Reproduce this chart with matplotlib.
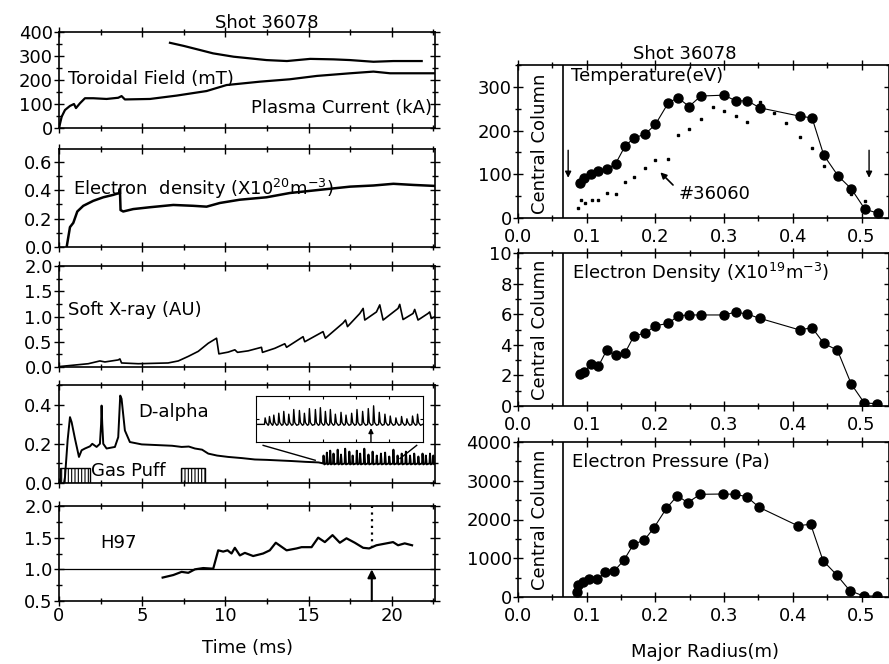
""" Shot 36078 summary: time traces (left) and radial profiles (right). """

import matplotlib
matplotlib.use('Agg')
import matplotlib.pyplot as plt
from matplotlib.patches import Rectangle
from matplotlib.ticker import MultipleLocator, FormatStrFormatter

plt.rcParams['font.family'] = ['DejaVu Sans']
plt.rcParams['mathtext.fontset'] = 'dejavusans'
plt.rcParams['hatch.linewidth'] = 0.8

# ---- left column: time traces (ms) ----
bt_t = [6.67, 7.5, 8.47, 9.26, 10.5, 11.5, 12.47, 13.7, 15.1, 16.5, 17.5, 18.9, 20.1, 21.8]
bt_v = [355, 342, 325, 311, 297, 290, 283, 279, 288, 286, 283, 276, 279, 279]

ip_t = [0.0, 0.16, 0.36, 0.66, 0.9, 1.02, 1.26, 1.56, 2.06, 2.86, 3.56, 3.76, 3.96, 5.47,
        7.07, 8.87, 10.07, 12.07, 13.87, 15.5, 17.5, 18.9, 19.9, 22.6]
ip_v = [0, 47, 75, 92, 100, 83, 103, 124, 124, 121, 126, 133, 119, 121,
        135, 154, 179, 193, 203, 217, 228, 235, 228, 228]

ne_t = [0.46, 0.56, 0.66, 0.86, 1.1, 1.46, 2.06, 2.66, 3.26, 3.62, 3.66, 3.7, 3.86, 4.46,
        5.47, 6.87, 8.07, 8.87, 9.67, 10.87, 12.47, 13.87, 15.47, 17.5, 18.9, 20.1, 21.3, 22.6]
ne_v = [0.0, 0.07, 0.14, 0.17, 0.25, 0.29, 0.325, 0.35, 0.367, 0.38, 0.41, 0.26, 0.25, 0.267,
        0.28, 0.296, 0.29, 0.284, 0.31, 0.333, 0.35, 0.38, 0.40, 0.425, 0.433, 0.445, 0.437, 0.43]

sx_t = [0.06, 1.76, 2.46, 2.76, 3.56, 3.66, 3.76, 4.76, 6.56, 7.17, 7.77, 8.37, 8.97, 9.47,
        9.61, 10.17, 10.57, 10.73, 11.37, 12.17, 12.23, 12.97, 13.57, 13.68, 14.67, 14.77,
        15.87, 16.01, 17.07, 17.22, 17.34, 18.08, 18.28, 18.38, 19.08, 19.28, 19.48, 20.38,
        20.48, 20.68, 21.28, 21.38, 21.58, 22.18, 22.28, 22.38, 22.6]
sx_v = [0.01, 0.065, 0.12, 0.10, 0.14, 0.16, 0.08, 0.065, 0.08, 0.12, 0.21, 0.31, 0.47, 0.57,
        0.26, 0.295, 0.34, 0.29, 0.32, 0.39, 0.29, 0.37, 0.46, 0.39, 0.60, 0.50,
        0.70, 0.57, 0.87, 0.93, 0.80, 1.06, 1.16, 0.93, 1.09, 1.23, 0.93, 1.16,
        1.24, 0.94, 1.06, 1.14, 0.93, 1.06, 1.09, 0.96, 1.0]

da_t = [0.3, 0.36, 0.52, 0.66, 0.76, 0.96, 1.2, 1.36, 1.56, 1.86, 2.0, 2.26, 2.46, 2.53, 2.56,
        2.6, 2.66, 2.86, 3.36, 3.56, 3.68, 3.76, 3.96, 4.26, 4.97, 5.5, 6.17, 6.8, 7.37, 7.8,
        8.17, 8.6, 8.97, 9.5, 10.17, 11.0, 11.77, 12.5, 13.3, 14.0, 14.8, 15.6]
da_v = [0.0, 0.03, 0.22, 0.336, 0.31, 0.226, 0.133, 0.167, 0.176, 0.187, 0.2, 0.184, 0.2, 0.3,
        0.395, 0.3, 0.2, 0.176, 0.184, 0.234, 0.446, 0.43, 0.268, 0.209, 0.197, 0.195, 0.192,
        0.19, 0.184, 0.186, 0.176, 0.17, 0.15, 0.14, 0.133, 0.127, 0.12, 0.118, 0.115, 0.112,
        0.108, 0.105]
elm_t = [15.9, 16.1, 16.3, 16.5, 16.75, 16.95, 17.2, 17.45, 17.65, 17.9, 18.1, 18.35, 18.6,
         18.85, 19.1, 19.35, 19.6, 19.85, 20.1, 20.35, 20.6, 20.85, 21.1, 21.35, 21.6, 21.85,
         22.05, 22.3, 22.5]
elm_peak = [0.14, 0.155, 0.165, 0.15, 0.17, 0.145, 0.175, 0.16, 0.14, 0.165, 0.15, 0.175, 0.145,
            0.16, 0.14, 0.15, 0.155, 0.135, 0.17, 0.14, 0.15, 0.16, 0.14, 0.15, 0.135, 0.15,
            0.14, 0.15, 0.14]
elm_base = 0.10

# inset (zoomed ELMs), normalised coordinates
ins_x = [0.054, 0.08, 0.106, 0.136, 0.166, 0.196, 0.226, 0.26, 0.29, 0.32, 0.356, 0.386,
         0.416, 0.446, 0.476, 0.51, 0.54, 0.574, 0.606, 0.64, 0.674, 0.706, 0.74, 0.774,
         0.806, 0.84, 0.874, 0.906, 0.94, 0.97]
ins_peak = [0.52, 0.55, 0.58, 0.62, 0.66, 0.6, 0.7, 0.68, 0.62, 0.72, 0.7, 0.74, 0.66, 0.7,
            0.6, 0.64, 0.58, 0.62, 0.7, 0.66, 0.72, 0.78, 0.64, 0.6, 0.56, 0.52, 0.55, 0.5,
            0.56, 0.6]

puff_start = [0.06, 7.33]
puff_end = [1.86, 8.77]
puff_height = 0.074

h97_t = [6.23, 6.87, 7.37, 7.77, 8.17, 8.67, 9.27, 9.57, 9.87, 10.13, 10.37, 10.57, 10.87,
         11.17, 11.67, 12.27, 12.67, 13.03, 13.68, 14.28, 14.58, 15.18, 15.58, 15.98, 16.44,
         16.88, 17.28, 17.78, 18.28, 18.64, 19.08, 19.48, 20.08, 20.38, 20.78, 21.22]
h97_v = [0.87, 0.91, 0.96, 0.945, 1.0, 1.02, 1.01, 1.30, 1.28, 1.30, 1.25, 1.34, 1.22,
         1.26, 1.21, 1.25, 1.30, 1.42, 1.30, 1.33, 1.35, 1.35, 1.50, 1.43, 1.54,
         1.42, 1.49, 1.42, 1.34, 1.33, 1.38, 1.40, 1.43, 1.38, 1.41, 1.38]
t_mark = 18.8
h97_at_mark = 1.33

# ---- right column: radial profiles (m) ----
te_r = [0.090, 0.0966, 0.106, 0.117, 0.129, 0.142, 0.156, 0.169, 0.185, 0.200, 0.219, 0.233,
        0.249, 0.266, 0.300, 0.317, 0.334, 0.352, 0.410, 0.428, 0.445, 0.466, 0.485, 0.505, 0.524]
te_v = [80, 92, 101, 108, 111, 124, 165, 183, 192, 214, 264, 275,
        255, 279, 281, 268, 268, 252, 233, 229, 144, 96, 67, 20, 11]

ref_r = [0.087, 0.092, 0.0975, 0.107, 0.117, 0.129, 0.142, 0.156, 0.169, 0.185, 0.200, 0.218,
         0.233, 0.249, 0.266, 0.284, 0.300, 0.317, 0.334, 0.352, 0.372, 0.390, 0.410, 0.428,
         0.445, 0.466, 0.485, 0.505]
ref_v = [23, 42, 35, 42, 42, 58, 56, 83, 94, 115, 132, 136,
         189, 204, 227, 255, 245, 233, 219, 266, 241, 217, 185, 161,
         120, 100, 55, 39]

nr_r = [0.090, 0.0966, 0.106, 0.117, 0.129, 0.142, 0.156, 0.169, 0.185, 0.200, 0.219, 0.233,
        0.249, 0.266, 0.300, 0.317, 0.334, 0.352, 0.410, 0.428, 0.445, 0.465, 0.485, 0.504, 0.523]
nr_v = [2.09, 2.2, 2.75, 2.6, 3.64, 3.31, 3.49, 4.6, 4.75, 5.25, 5.4, 5.9,
        5.95, 5.95, 5.95, 6.14, 6.0, 5.73, 4.97, 5.12, 4.1, 3.64, 1.44, 0.2, 0.15]

pe_r = [0.0864, 0.088, 0.094, 0.104, 0.115, 0.127, 0.140, 0.154, 0.168, 0.184, 0.198, 0.216,
        0.232, 0.247, 0.265, 0.299, 0.316, 0.333, 0.351, 0.407, 0.426, 0.444, 0.464, 0.483,
        0.503, 0.523]
pe_v = [121, 310, 396, 456, 456, 636, 671, 946, 1359, 1471, 1789, 2288,
        2615, 2434, 2650, 2658, 2650, 2589, 2314, 1841, 1876, 937, 568, 163,
        26, 26]

central_column_r = 0.065

FS = 13
W, H = 889, 664


def px_box(x0, y0, x1, y1):
    """ Converts a pixel box (top-left origin) into figure coordinates. """
    return [x0 / W, 1 - y1 / H, (x1 - x0) / W, (y1 - y0) / H]


def style(ax, xmaj, xmin, ymaj, ymin, yfmt=None, xfmt=None):
    ax.xaxis.set_major_locator(MultipleLocator(xmaj))
    ax.xaxis.set_minor_locator(MultipleLocator(xmin))
    ax.yaxis.set_major_locator(MultipleLocator(ymaj))
    ax.yaxis.set_minor_locator(MultipleLocator(ymin))
    if yfmt:
        ax.yaxis.set_major_formatter(FormatStrFormatter(yfmt))
    if xfmt:
        ax.xaxis.set_major_formatter(FormatStrFormatter(xfmt))
    ax.tick_params(which='both', direction='inout', top=True, right=True,
                   labelsize=FS, width=1, pad=1)
    ax.tick_params(which='major', length=7)
    ax.tick_params(which='minor', length=4)
    for sp in ax.spines.values():
        sp.set_linewidth(1.2)


fig = plt.figure(figsize=(W / 100, H / 100), dpi=100)

left_boxes = [(32, 128), (149, 247), (266, 367), (385, 483), (506, 601)]
axl = [fig.add_axes(px_box(59, y0, 435, y1)) for y0, y1 in left_boxes]
for ax in axl:
    ax.set_xlim(0, 22.6)

# panel 1: toroidal field and plasma current
ax = axl[0]
ax.plot(bt_t, bt_v, color='k', lw=1.6)
ax.plot(ip_t, ip_v, color='k', lw=1.6)
ax.set_ylim(0, 400)
style(ax, 5, 2.5, 100, 50)
ax.text(0.56, 204, 'Toroidal Field (mT)', fontsize=FS, va='center')
ax.text(22.4, 83, 'Plasma Current (kA)', fontsize=FS, va='center', ha='right')
ax.set_title('Shot 36078', fontsize=FS, pad=3, x=0.553)

# panel 2: electron density
ax = axl[1]
ax.plot(ne_t, ne_v, color='k', lw=1.8)
ax.set_ylim(0, 0.69)
style(ax, 5, 2.5, 0.2, 0.1, '%.1f')
ax.text(0.82, 0.41, 'Electron  density (X10$^{20}$m$^{-3}$)', fontsize=FS, va='center')

# panel 3: soft x-ray
ax = axl[2]
ax.plot(sx_t, sx_v, color='k', lw=1.2)
ax.set_ylim(0, 2.0)
style(ax, 5, 2.5, 0.5, 0.25, '%.1f')
ax.text(0.56, 1.13, 'Soft X-ray (AU)', fontsize=FS, va='center')

# panel 4: D-alpha with ELMs
ax = axl[3]
full_t = list(da_t)
full_v = list(da_v)
for t, p in zip(elm_t, elm_peak):
    full_t += [t - 0.03, t, t + 0.05]
    full_v += [elm_base, p, elm_base - 0.005]
full_t.append(22.6)
full_v.append(elm_base)
ax.plot(full_t, full_v, color='k', lw=1.4)
ax.set_ylim(0, 0.5)
style(ax, 5, 2.5, 0.2, 0.1, '%.1f')
ax.text(4.75, 0.36, 'D-alpha', fontsize=FS, va='center')
ax.text(1.9, 0.063, 'Gas Puff', fontsize=FS, va='center')
for s, e in zip(puff_start, puff_end):
    ax.add_patch(Rectangle((s, 0), e - s, puff_height, fill=False, hatch='|||||',
                           edgecolor='k', lw=1))
ax.plot([12.27, 15.4], [0.192, 0.116], color='k', lw=1)
ax.plot([21.5, 20.5], [0.192, 0.125], color='k', lw=1)
ins = ax.inset_axes([11.85, 0.209, 10.0, 0.237], transform=ax.transData)
ix, iy = [0.0], [0.38]
for x, p in zip(ins_x, ins_peak):
    ix += [x - 0.004, x, x + 0.006, x + 0.018]
    iy += [0.38, p, 0.42, 0.36]
ix.append(1.0)
iy.append(0.38)
ins.plot(ix, iy, color='k', lw=1.0)
ins.set_xlim(0, 1)
ins.set_ylim(0, 1)
ins.set_xticks([0.2, 0.4, 0.6, 0.8])
ins.set_yticks([0.5])
ins.tick_params(direction='in', length=2, top=True, right=True,
                labelbottom=False, labelleft=False)
ins.annotate('', xy=(0.69, 0.3), xytext=(0.69, 0.0),
             arrowprops=dict(arrowstyle='-|>', lw=1.0, color='k', mutation_scale=7,
                             shrinkA=0, shrinkB=0))

# panel 5: H97
ax = axl[4]
ax.plot(h97_t, h97_v, color='k', lw=1.6)
ax.axhline(1.0, color='k', lw=0.9)
ax.set_ylim(0.5, 2.0)
style(ax, 5, 2.5, 0.5, 0.25, '%.1f')
ax.text(2.46, 1.41, 'H97', fontsize=FS, va='center')
ax.plot([t_mark, t_mark], [h97_at_mark, 2.0], color='k', lw=1.6, ls=(0, (1, 2)))
ax.annotate('', xy=(t_mark, 1.0), xytext=(t_mark, 0.5),
            arrowprops=dict(arrowstyle='-|>', lw=1.5, color='k', mutation_scale=12,
                            shrinkA=0, shrinkB=0))
ax.set_xlabel('Time (ms)', fontsize=FS, labelpad=10)

for ax in axl[:4]:
    ax.tick_params(labelbottom=False)

# right column
right_boxes = [(65, 218), (253, 406), (442, 597)]
axr = [fig.add_axes(px_box(518, y0, 889, y1)) for y0, y1 in right_boxes]
for ax in axr:
    ax.set_xlim(0, 0.54)
    ax.axvline(central_column_r, color='k', lw=1.2)

ax = axr[0]
ax.plot(te_r, te_v, color='k', lw=0.8, marker='o', ms=6.5)
ax.plot(ref_r, ref_v, ls='none', marker='s', ms=2, color='k')
ax.set_ylim(0, 350)
style(ax, 0.1, 0.05, 100, 50, None, '%.1f')
ax.text(0.0325, 170, 'Central Column', rotation=90, fontsize=FS, ha='center', va='center')
ax.text(0.077, 325, 'Temperature(eV)', fontsize=FS, va='center')
ax.text(0.2335, 56, '#36060', fontsize=FS, va='center')
ax.annotate('', xy=(0.2043, 109), xytext=(0.2285, 71),
            arrowprops=dict(arrowstyle='-|>', lw=1.2, color='k', mutation_scale=9))
for xa in [0.073, 0.511]:
    ax.annotate('', xy=(xa, 92), xytext=(xa, 155),
                arrowprops=dict(arrowstyle='-|>', lw=1.0, color='k', mutation_scale=9,
                                shrinkA=0, shrinkB=0))
ax.set_title('Shot 36078', fontsize=FS, pad=4, x=0.45)

ax = axr[1]
ax.plot(nr_r, nr_v, color='k', lw=0.8, marker='o', ms=6.5)
ax.set_ylim(0, 10)
style(ax, 0.1, 0.05, 2, 1, None, '%.1f')
ax.text(0.0325, 5, 'Central Column', rotation=90, fontsize=FS, ha='center', va='center')
ax.text(0.078, 8.67, 'Electron Density (X10$^{19}$m$^{-3}$)', fontsize=FS, va='center')

ax = axr[2]
ax.plot(pe_r, pe_v, color='k', lw=0.8, marker='o', ms=6.5)
ax.set_ylim(0, 4000)
style(ax, 0.1, 0.05, 1000, 500, None, '%.1f')
ax.text(0.0325, 2000, 'Central Column', rotation=90, fontsize=FS, ha='center', va='center')
ax.text(0.078, 3490, 'Electron Pressure (Pa)', fontsize=FS, va='center')
ax.text(0.505, -(652 - 597) / 155, 'Major Radius(m)', fontsize=FS,
        ha='center', va='center', transform=ax.transAxes)

for ax in axr:
    ax.tick_params(axis='x', pad=4)

fig.savefig('out.png', dpi=100)
